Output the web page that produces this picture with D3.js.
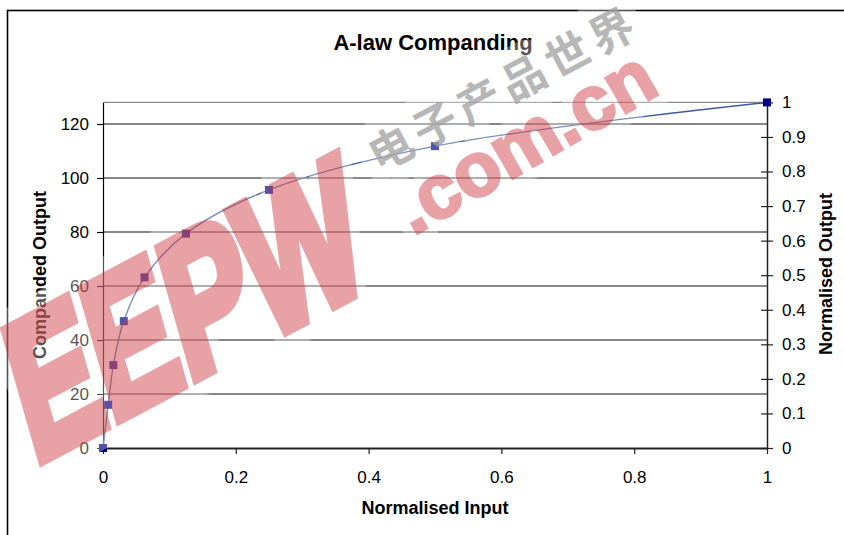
<!DOCTYPE html>
<html>
<head>
<meta charset="utf-8">
<script src="https://cdn.jsdelivr.net/npm/d3@7"></script>
<style>
  html, body { margin: 0; padding: 0; background: #fff; }
  svg { display: block; font-family: "Liberation Sans", Arial, sans-serif; }
</style>
</head>
<body>
<svg id="chart" width="844" height="535"></svg>
<script>
// ---- data ----
const inputValues = [0, 0.0078, 0.0156, 0.0313, 0.0625, 0.125, 0.25, 0.5, 1];
const outputValues = [0, 16, 30.7, 47, 63.2, 79.4, 95.6, 111.8, 128];
const xTicks = [0, 0.2, 0.4, 0.6, 0.8, 1];
const leftTicks = [0, 20, 40, 60, 80, 100, 120];
const rightTicks = [0, 0.1, 0.2, 0.3, 0.4, 0.5, 0.6, 0.7, 0.8, 0.9, 1];
const chartTitle = "A-law Companding";
const xTitle = "Normalised Input";
const yLeftTitle = "Companded Output";
const yRightTitle = "Normalised Output";
const wmMain = "EEPW";
const wmDomain = ".com.cn";
const wmChinese = "电子产品世界";

const svg = d3.select("#chart");
const L = 103, R = 767, T = 102.4, B = 448;

const x = d3.scaleLinear().domain([0, 1]).range([L, R]);
const yL = d3.scaleLinear().domain([0, 128]).range([B, T]);
const yR = d3.scaleLinear().domain([0, 1]).range([B, T]);

// outer frame
svg.append("rect").attr("x", 7.5).attr("y", 10.5).attr("width", 1000).attr("height", 1000)
  .attr("fill", "none").attr("stroke", "#000").attr("stroke-width", 1.6);

// title
svg.append("text").attr("x", 433).attr("y", 50).attr("text-anchor", "middle")
  .attr("font-size", 22).attr("font-weight", "bold").text(chartTitle);

// top plot border
svg.append("line").attr("x1", L).attr("x2", R).attr("y1", T).attr("y2", T)
  .attr("stroke", "#8a8a8a").attr("stroke-width", 1.2);

// gridlines
svg.append("g").selectAll("line").data(leftTicks.filter(d => d > 0)).join("line")
  .attr("x1", L).attr("x2", R).attr("y1", d => yL(d)).attr("y2", d => yL(d))
  .attr("stroke", "#111").attr("stroke-width", 1.1);

// bottom axis
const gx = svg.append("g").attr("transform", `translate(0,${B})`)
  .call(d3.axisBottom(x).tickValues(xTicks).tickFormat(d => String(d)).tickSize(6).tickSizeOuter(0).tickPadding(17));
gx.select(".domain").attr("stroke", "#222").attr("stroke-width", 1.8);
gx.selectAll(".tick line").attr("stroke", "#222").attr("stroke-width", 1.2);
gx.selectAll("text").attr("font-size", 17).attr("font-family", "Liberation Sans, Arial, sans-serif").attr("fill", "#000");

// left axis
const gl = svg.append("g").attr("transform", `translate(${L},0)`)
  .call(d3.axisLeft(yL).tickValues(leftTicks).tickSize(6).tickSizeOuter(0).tickPadding(8));
gl.select(".domain").attr("stroke", "#000").attr("stroke-width", 1.2);
gl.selectAll(".tick line").attr("stroke", "#000").attr("stroke-width", 1.2);
gl.selectAll("text").attr("font-size", 17).attr("font-family", "Liberation Sans, Arial, sans-serif").attr("fill", "#000");

// right axis
const gr = svg.append("g").attr("transform", `translate(${R},0)`)
  .call(d3.axisRight(yR).tickValues(rightTicks).tickFormat(d => String(d)).tickSize(6).tickSizeOuter(0).tickPadding(9));
gr.select(".domain").attr("stroke", "#222").attr("stroke-width", 1.5);
gr.selectAll(".tick line").attr("stroke", "#222").attr("stroke-width", 1.2).attr("x1", -6);
gr.selectAll("text").attr("font-size", 17).attr("font-family", "Liberation Sans, Arial, sans-serif").attr("fill", "#000");

// axis titles
svg.append("text").attr("x", 435).attr("y", 514).attr("text-anchor", "middle")
  .attr("font-size", 18).attr("font-weight", "bold").text(xTitle);
svg.append("text").attr("transform", "translate(46,275) rotate(-90)").attr("text-anchor", "middle")
  .attr("font-size", 18).attr("font-weight", "bold").text(yLeftTitle);
svg.append("text").attr("transform", "translate(832,274) rotate(-90)").attr("text-anchor", "middle")
  .attr("font-size", 18).attr("font-weight", "bold").text(yRightTitle);

// series
const pts = inputValues.map((v, i) => [v, outputValues[i]]);
const line = d3.line().x(d => x(d[0])).y(d => yL(d[1])).curve(d3.curveCatmullRom.alpha(0.5));
svg.append("path").attr("d", line(pts)).attr("fill", "none")
  .attr("stroke", "#3a5a9c").attr("stroke-width", 1.4);
svg.append("g").selectAll("rect").data(pts).join("rect")
  .attr("x", d => x(d[0]) - 4).attr("y", d => yL(d[1]) - 4)
  .attr("width", 8).attr("height", 8).attr("fill", "#000080");

// ---- watermark overlay ----
const wm = svg.append("g").attr("pointer-events", "none");
const mainTf = "translate(34,464) rotate(-28) skewX(-12)";
const comTf = "translate(413,236) rotate(-30)";
// soft white halo
const halo = wm.append("g").attr("opacity", 0.33);
halo.append("text").attr("transform", mainTf).attr("font-size", 190).attr("font-weight", "bold")
  .attr("textLength", 385).attr("lengthAdjust", "spacingAndGlyphs")
  .attr("fill", "none").attr("stroke", "#fff").attr("stroke-width", 40)
  .attr("stroke-linejoin", "round").text(wmMain);
halo.append("text").attr("transform", comTf).attr("font-size", 76).attr("font-weight", "bold")
  .attr("fill", "none").attr("stroke", "#fff").attr("stroke-width", 24)
  .attr("stroke-linejoin", "round").text(wmDomain);
halo.append("text").attr("transform", "translate(379,173) rotate(-28)")
  .attr("font-family", "Noto Sans CJK SC").attr("font-size", 44).attr("font-weight", "bold")
  .attr("letter-spacing", 6).attr("fill", "none").attr("stroke", "#fff").attr("stroke-width", 30)
  .attr("stroke-linejoin", "round").text(wmChinese);
// red letters (heavy)
const red = wm.append("g").attr("opacity", 0.44);
red.append("text").attr("transform", mainTf).attr("font-size", 190).attr("font-weight", "bold")
  .attr("textLength", 385).attr("lengthAdjust", "spacingAndGlyphs")
  .attr("fill", "rgb(205,45,52)").attr("stroke", "rgb(205,45,52)").attr("stroke-width", 12)
  .attr("stroke-linejoin", "miter").text(wmMain);
red.append("text").attr("transform", comTf).attr("font-size", 76).attr("font-weight", "bold")
  .attr("fill", "rgb(205,45,52)").attr("stroke", "rgb(205,45,52)").attr("stroke-width", 3)
  .text(wmDomain);
// chinese
wm.append("text").attr("transform", "translate(379,173) rotate(-28)")
  .attr("font-family", "Noto Sans CJK SC").attr("font-size", 44).attr("font-weight", "bold")
  .attr("letter-spacing", 6).attr("fill", "#a0a0a0").attr("fill-opacity", 0.75)
  .text(wmChinese);
</script>
</body>
</html>
